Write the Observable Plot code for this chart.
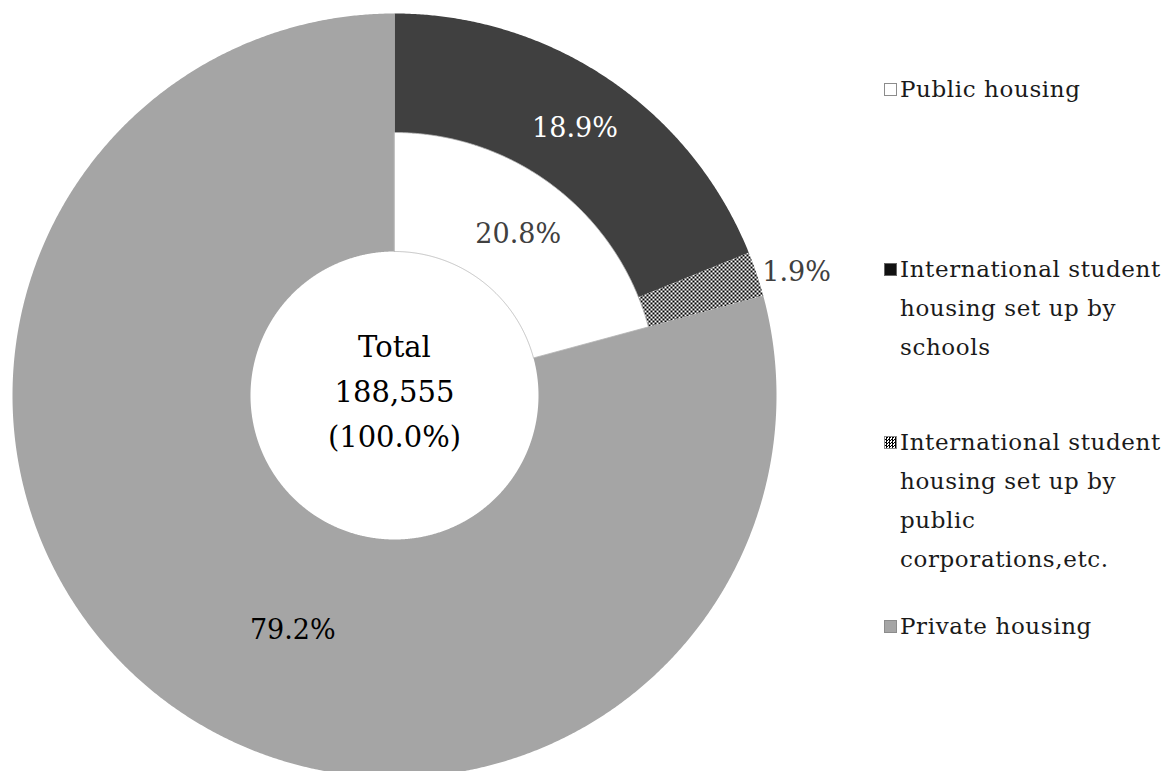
<!DOCTYPE html>
<html>
<head>
<meta charset="utf-8">
<script src="https://cdn.jsdelivr.net/npm/d3@7"></script>
<script src="https://cdn.jsdelivr.net/npm/@observablehq/plot@0.6"></script>
<style>
  html, body { margin: 0; padding: 0; background: #fff; overflow: hidden; }
  #wrap { position: relative; width: 1169px; height: 771px; }
  #chart { position: absolute; left: 0; top: 0; }
  #legend { position: absolute; left: 884px; top: 0; font-family: "DejaVu Serif", serif; font-size: 23px; letter-spacing: 0.6px; color: #1a1a1a; }
  .item { position: absolute; left: 0; width: 290px; line-height: 39px; padding-left: 16px; white-space: nowrap; }
  .sw { position: absolute; left: 0px; top: 13px; width: 13px; height: 13px; box-sizing: border-box; border: 1px solid #8c8c8c; }
</style>
</head>
<body>
<div id="wrap">
  <div id="chart"></div>
  <div id="legend"></div>
</div>
<script>
// ---- data ----
const categories = [
  "Public housing",
  "International student housing set up by schools",
  "International student housing set up by public corporations,etc.",
  "Private housing"
];
const shares = [20.8, 18.9, 1.9, 79.2];
const shareLabels = ["20.8%", "18.9%", "1.9%", "79.2%"];
const legendLines = [
  ["Public housing"],
  ["International student", "housing set up by", "schools"],
  ["International student", "housing set up by", "public", "corporations,etc."],
  ["Private housing"]
];
const centerLines = ["Total", "188,555", "(100.0%)"];

// ---- layout ----
const W = 860, H = 771;
const cx = 394, cy = 395;
const R = 382, rMid = 263, rIn = 144;
const fills = ["#ffffff", "#404040", "url(#chk)", "#a5a5a5"];

// angles (clockwise from top)
const mainPie = d3.pie().sort(null).value(d => d)([shares[0], shares[3]]);
const pubStart = mainPie[0].startAngle, pubEnd = mainPie[0].endAngle;
const subPie = d3.pie().sort(null).startAngle(pubStart).endAngle(pubEnd).value(d => d)([shares[1], shares[2]]);

const segs = [
  {key: categories[0], a0: pubStart, a1: pubEnd, r0: rIn, r1: rMid, label: shareLabels[0]},
  {key: categories[1], a0: subPie[0].startAngle, a1: subPie[0].endAngle, r0: rMid, r1: R, label: shareLabels[1]},
  {key: categories[2], a0: subPie[1].startAngle, a1: subPie[1].endAngle, r0: rMid, r1: R, label: shareLabels[2]},
  {key: categories[3], a0: mainPie[1].startAngle, a1: mainPie[1].endAngle, r0: rIn, r1: R, label: shareLabels[3]}
];

function ringPoints(s) {
  const n = Math.max(4, Math.ceil((s.a1 - s.a0) / 0.005));
  const pts = [];
  for (let i = 0; i <= n; i++) {
    const a = s.a0 + (s.a1 - s.a0) * i / n;
    pts.push({key: s.key, x: s.r1 * Math.sin(a), y: s.r1 * Math.cos(a)});
  }
  for (let i = n; i >= 0; i--) {
    const a = s.a0 + (s.a1 - s.a0) * i / n;
    pts.push({key: s.key, x: s.r0 * Math.sin(a), y: s.r0 * Math.cos(a)});
  }
  return pts;
}
const polyData = segs.flatMap(ringPoints);

// label positions
const labelStyle = [
  {fill: "#404040", out: false, nudge: 0},
  {fill: "#ffffff", out: false, nudge: 0},
  {fill: "#404040", out: true, nudge: 0},
  {fill: "#000000", out: false, nudge: -0.245}
];
const labelData = segs.map((s, i) => {
  const st = labelStyle[i];
  const a = (s.a0 + s.a1) / 2 + st.nudge;
  const r = st.out ? R + 6 : (s.r0 + s.r1) / 2 - (i === 3 ? 7 : 0);
  return {label: s.label, x: r * Math.sin(a), y: r * Math.cos(a), fill: st.fill, anchor: st.out ? "start" : "middle"};
});

const font = "DejaVu Serif";

const svg = Plot.plot({
  width: W,
  height: H,
  margin: 0,
  style: {background: "transparent", overflow: "visible"},
  x: {domain: [-cx, W - cx], range: [0, W], axis: null},
  y: {domain: [-(H - cy), cy], range: [H, 0], axis: null},
  color: {domain: categories, range: fills},
  marks: [
    Plot.line(polyData, {x: "x", y: "y", z: "key", fill: "key", stroke: null, curve: "linear-closed"}),
    Plot.line(polyData.filter(d => d.key === categories[0]), {x: "x", y: "y", z: "key", fill: "none", stroke: "#b4b4b4", strokeWidth: 0.8, curve: "linear-closed"}),
    Plot.text(labelData.filter(d => d.anchor === "middle"), {x: "x", y: "y", text: "label", fill: d => d.fill, fontSize: 27, fontFamily: font, textAnchor: "middle"}),
    Plot.text(labelData.filter(d => d.anchor === "start"), {x: "x", y: "y", text: "label", fill: d => d.fill, fontSize: 27, fontFamily: font, textAnchor: "start"}),
    Plot.text([centerLines.join("\n")], {x: () => 0, y: () => 0, text: d => d, fill: "#000", fontSize: 29, fontFamily: font, lineHeight: 1.55, dy: -8, textAnchor: "middle"})
  ]
});

// checker pattern
const defs = d3.select(svg).insert("defs", ":first-child");
const pat = defs.append("pattern").attr("id", "chk").attr("width", 4).attr("height", 4).attr("patternUnits", "userSpaceOnUse");
pat.append("rect").attr("width", 4).attr("height", 4).attr("fill", "#fff");
pat.append("rect").attr("x", 0).attr("y", 0).attr("width", 2).attr("height", 2).attr("fill", "#000");
pat.append("rect").attr("x", 2).attr("y", 2).attr("width", 2).attr("height", 2).attr("fill", "#000");

document.getElementById("chart").appendChild(svg);

// legend
const legendTops = [70, 250, 423, 607];
const swatchStyles = [
  "background:#fff;",
  "background:#111; border-color:#666;",
  "background-color:#fff; background-image: repeating-conic-gradient(#000 0 25%, #fff 0 50%); background-size: 3px 3px;",
  "background:#a5a5a5;"
];
const legend = d3.select("#legend");
categories.forEach((c, i) => {
  const item = legend.append("div").attr("class", "item").style("top", legendTops[i] + "px");
  item.append("span").attr("class", "sw").attr("style", swatchStyles[i]);
  item.append("div").html(legendLines[i].join("<br>"));
});
</script>
</body>
</html>
